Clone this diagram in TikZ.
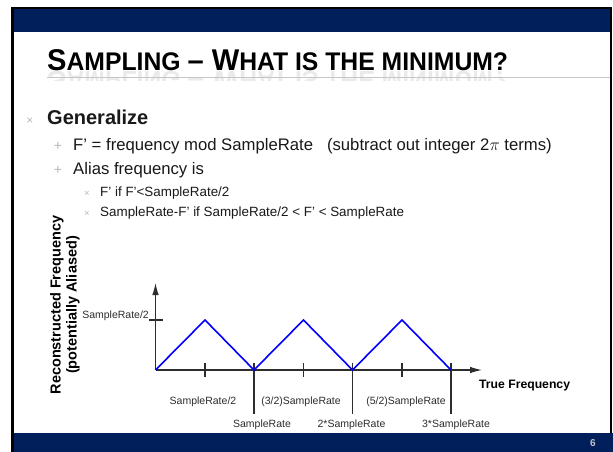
\documentclass[tikz,border=0pt]{standalone}
\usepackage{graphicx}
\usepackage{fontspec}
\setmainfont{Liberation Sans}
\newfontfamily\titlefont[FakeStretch=0.97]{Liberation Sans}
\usetikzlibrary{arrows.meta}
\definecolor{navy}{RGB}{0,31,91}
\definecolor{bulletgray}{RGB}{185,185,185}
\definecolor{txt}{RGB}{25,25,25}
\definecolor{axisc}{RGB}{45,45,45}
\definecolor{wave}{RGB}{0,0,255}
\newcommand\tB[1]{{\fontsize{30}{30}\selectfont #1}}
\newcommand\tS[1]{{\fontsize{25.5}{25.5}\selectfont #1}}
\newcommand\ttl{\titlefont\bfseries\tB{S}\tS{AMPLING }\tB{– W}\tS{HAT IS THE MINIMUM?}}
\begin{document}
\begin{tikzpicture}[x=1pt,y=-1pt,
  lbl/.style={anchor=base west, inner sep=0pt, text=txt},
  bulone/.style={anchor=base, inner sep=0pt, text=bulletgray, font=\fontsize{12}{12}\selectfont},
  bultwo/.style={anchor=base, inner sep=0pt, text=bulletgray, font=\fontsize{14}{14}\selectfont},
  bulthree/.style={anchor=base, inner sep=0pt, text=bulletgray, font=\fontsize{9.5}{9.5}\selectfont},
  axisline/.style={draw=axisc, line width=1.1pt},
  ticklbl/.style={anchor=base, inner sep=0pt, text=axisc, font=\fontsize{10.5}{12}\selectfont},
  arr/.style={-{Latex[length=12pt,width=6.5pt]}}
]
\useasboundingbox (0,0) rectangle (613,452);
% slide frame
\fill[white] (0,0) rectangle (613,452);
\fill[black] (11,7) rectangle (612,452);
\fill[white] (13.5,9) rectangle (609.5,452);
\fill[navy] (13.5,9) rectangle (609.5,32);
\fill[navy] (13.5,433) rectangle (613,452);

% title with reflection
\begin{scope}
  \clip (40,71.5) rectangle (611,80);
  \node[anchor=base west, inner sep=0pt, text=gray, opacity=0.16] (refl) at (47,71.5) {\scalebox{1}[-1]{\ttl}};
\end{scope}
\draw[gray!45, line width=1pt] (47,77.5) -- (609.5,77.5);
\node[anchor=base west, inner sep=0pt, text=black] (title) at (47,70.5) {\ttl};

% bullets
\node[bulone] (b1) at (30,124) {×};
\node[lbl, font=\fontsize{20}{24}\selectfont\bfseries] (gen) at (47,124) {Generalize};
\node[bultwo] (b2) at (58,150) {+};
\node[lbl, font=\fontsize{16.7}{20}\selectfont] (l2a) at (73,150) {F' = frequency mod SampleRate~~~(subtract out integer 2$\pi$ terms)};
\node[bultwo] (b3) at (58,174) {+};
\node[lbl, font=\fontsize{16.7}{20}\selectfont] (l2b) at (73,174) {Alias frequency is};
\node[bulthree] (b4) at (87,196.5) {×};
\node[lbl, font=\fontsize{13.4}{16}\selectfont] (l3a) at (100,196.5) {F' if F'<SampleRate/2};
\node[bulthree] (b5) at (87,216) {×};
\node[lbl, font=\fontsize{13.4}{16}\selectfont] (l3b) at (100,216) {SampleRate-F' if SampleRate/2 < F' < SampleRate};

% graph
\coordinate (O) at (155.5,370);
\coordinate (Ytop) at (155.5,283);
\coordinate (Xend) at (482,370);
\coordinate (p1) at (205,320);
\coordinate (v1) at (254,370);
\coordinate (p2) at (303.5,320);
\coordinate (v2) at (352.5,370);
\coordinate (p3) at (402,320);
\coordinate (v3) at (451,370);
\draw[axisline, arr] (O) -- (Ytop);
\draw[axisline, arr] (O) -- (Xend);
\draw[axisline] (149,320) -- (163,320);
\foreach \x in {205,303.5,402} \draw[axisline] (\x,363) -- (\x,377);
\foreach \x in {254,352.5,451} \draw[axisline] (\x,363) -- (\x,414);
\draw[wave, line width=1.6pt] (O) -- (p1) -- (v1) -- (p2) -- (v2) -- (p3) -- (v3);

\node[anchor=base east, inner sep=0pt, text=axisc, font=\fontsize{10.5}{12}\selectfont] (yl) at (149,318) {SampleRate/2};
\node[ticklbl] (t1) at (203,404) {SampleRate/2};
\node[ticklbl] (t3) at (301,404) {(3/2)SampleRate};
\node[ticklbl] (t5) at (406,404) {(5/2)SampleRate};
\node[ticklbl] (t2) at (262,427) {SampleRate};
\node[ticklbl] (t4) at (351.5,427) {2*SampleRate};
\node[ticklbl] (t6) at (456,427) {3*SampleRate};
\node[lbl, text=black, font=\fontsize{12.2}{14}\selectfont\bfseries] (xl) at (479,388.5) {True Frequency};
\node[rotate=90, align=center, inner sep=0pt, text=black, font=\fontsize{14.5}{16}\selectfont\bfseries] (ylab) at (65,305) {Reconstructed Frequency\\(potentially Aliased)};

\node[inner sep=0pt, text=gray!45, font=\fontsize{10}{10}\selectfont\bfseries] (pg) at (593,443) {6};
\end{tikzpicture}
\end{document}
